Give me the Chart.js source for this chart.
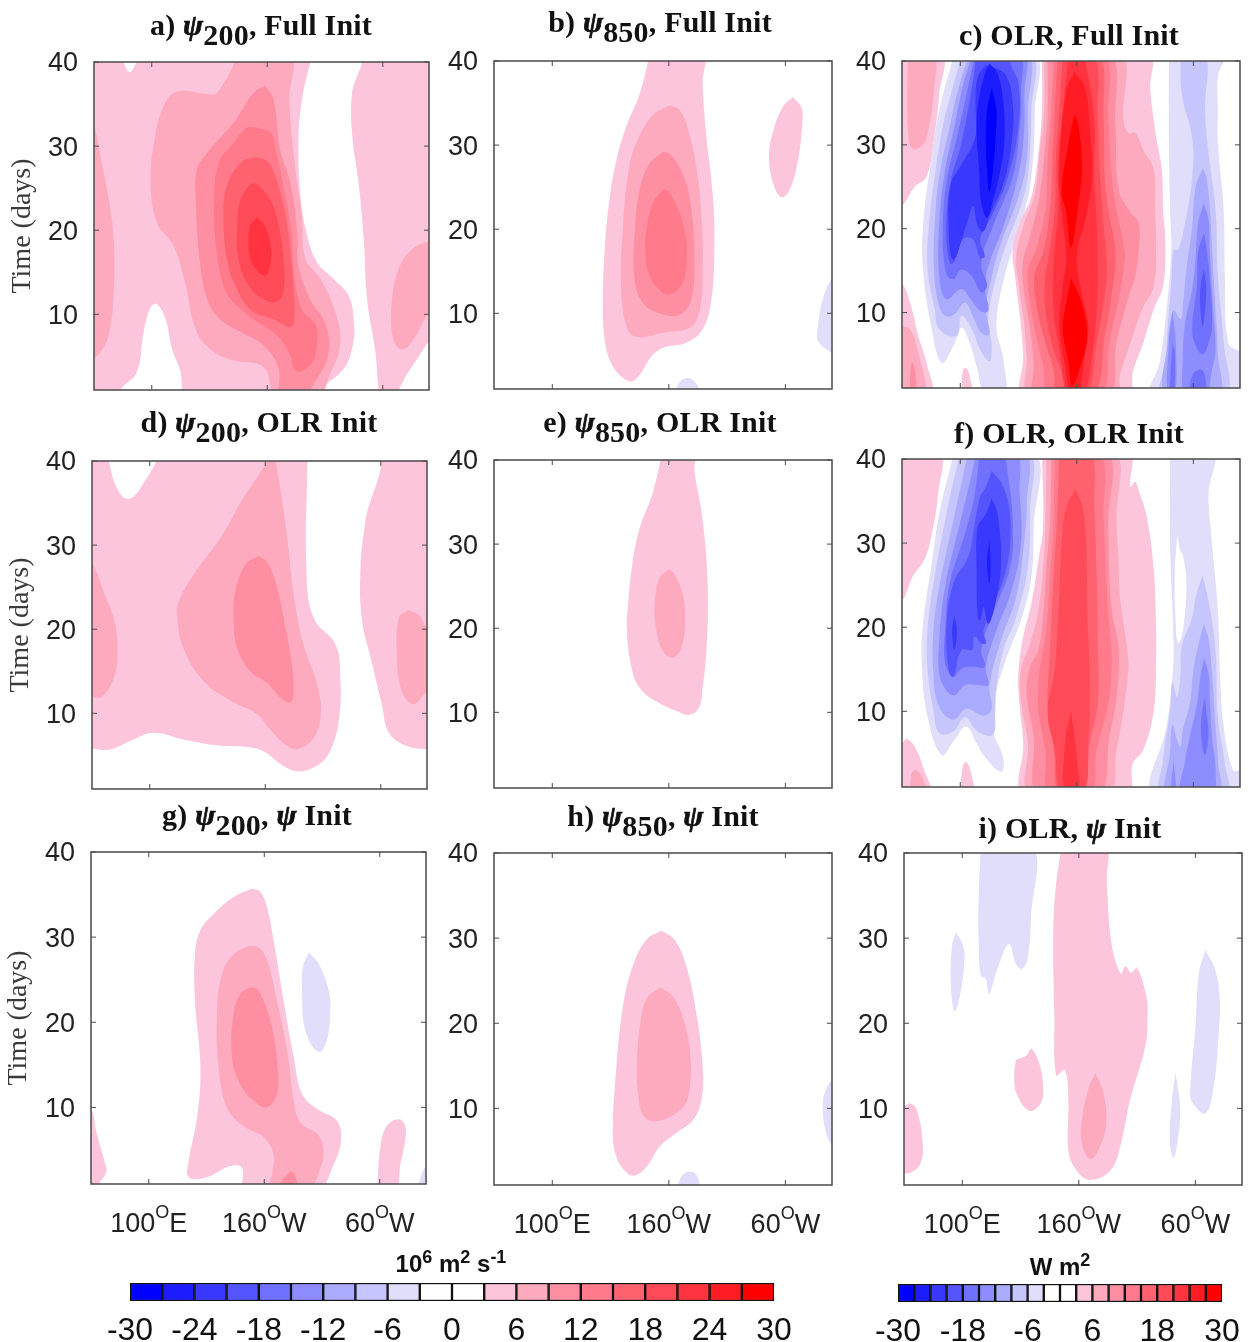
<!DOCTYPE html>
<html>
<head>
<meta charset="utf-8">
<title>Hovmoller panels</title>
<script src="https://cdn.jsdelivr.net/npm/chart.js@4"></script>
<style>
  html, body { margin: 0; padding: 0; background: #fff; }
  body { position: relative; width: 1250px; height: 1342px; overflow: hidden; }
  canvas { position: absolute; }
  .ttl { position: absolute; transform: translateX(-50%); white-space: nowrap; line-height: 1; letter-spacing: 0.2px;
         font: bold 30px "Liberation Serif", serif; color: #111; }
  .ttl i { -webkit-text-stroke: 0.7px #111; }
  .ttl sub { font-size: 30px; line-height: 0; vertical-align: -10px; }
  .unit { position: absolute; transform: translateX(-50%); white-space: nowrap; line-height: 1;
          font: bold 24px "Liberation Sans", sans-serif; color: #111; }
  .unit sup { font-size: 18px; line-height: 0; vertical-align: 9px; }
</style>
</head>
<body>
<script>
// colour bands, 3 units wide, -30..30
const bandColors = ['#0000ff', '#1c1cff', '#3838ff', '#5555ff', '#7171ff', '#8d8dff', '#aaaaff', '#c6c6fd', '#e0defb', '#ffffff',
  '#ffffff', '#fcc5dc', '#fda9be', '#fe8fa2', '#ff7a8b', '#ff626f', '#ff4b58', '#ff3440', '#ff1c24', '#ff0000'];
const bandEdges = [-30, -27, -24, -21, -18, -15, -12, -9, -6, -3, 0, 3, 6, 9, 12, 15, 18, 21, 24, 27, 30];
const timeTicks = [10, 20, 30, 40];
const lonTicks = [100, 200, 300];
const lonTickText = [['100', 'E'], ['160', 'W'], ['60', 'W']];
const barTicksLeft = [-30, -24, -18, -12, -6, 0, 6, 12, 18, 24, 30];
const barTicksRight = [-30, -18, -6, 6, 18, 30];

// contours as [longitude (deg east), time (days)]
// a) psi200 full init
const aBase = [[40, 42], [350, 42], [350, -1], [40, -1]];
const aHoleTop = [[74, 41], [77, 39.5], [81, 38.8], [85, 39.5], [89, 41]];
const aHoleRight = [[239, 41], [230, 35.5], [227, 30.4], [229, 23.7], [234, 19.7], [243, 16.2], [257.5, 14.2], [270.5, 12.2], [275, 9], [274, 6.3], [266, 3.5], [246, 1], [240, -1], [300, -1], [296.5, 1], [293.6, 5.5], [286.4, 11.8], [283.5, 18.9], [279, 25.6], [273.4, 31.5], [273.4, 36.3], [280.6, 41]];
const aHoleLeft = [[70, -1], [73, 1], [87, 3.1], [93, 7.9], [99, 10.8], [104.5, 11.2], [112, 9.4], [117.5, 5.9], [125, 3.1], [126, 1], [128, -1]];
const aHoleCorner = [[310, -1], [314, 1], [324, 3.5], [345, 7], [345, -1]];
const aP6Left = [[45, 32.2], [50, 32.2], [55.5, 28.8], [62.7, 23.7], [67, 19], [67, 12.6], [62.7, 7.5], [55.5, 5.5], [50, 4.9], [45, 4.9]];
const aP6 = [[176, 41], [156.5, 36.3], [148, 36.2], [122, 36.5], [110, 34.7], [102, 30.4], [99, 25.6], [104.5, 20.9], [119, 18.1], [128, 14.2], [139, 7.9], [154, 5.5], [171, 4.5], [197, 3.7], [208, 0], [243, 0], [255, 3.1], [263, 6.3], [260, 9.8], [246, 14.2], [233, 16.6], [230, 21.7], [224, 27.6], [219, 35.5], [220, 41]];
const aP6Right = [[345, 18.7], [340, 18.7], [327, 17.9], [315, 15.8], [308, 11.8], [309, 7.1], [316.7, 5.8], [327, 7.1], [340, 10.2], [345, 10.2]];
const aP9 = [[198, 37.2], [188, 36.3], [171, 32.8], [148, 29.2], [139, 27.2], [138, 23.7], [142, 15.8], [148, 11.8], [159, 9.4], [177, 7.9], [197, 6.3], [210, 3.5], [211, 0], [229, 0], [243, 2.3], [253, 5.5], [250, 9], [237, 11.8], [227, 15.8], [226, 19.7], [220, 25.6], [211, 29.6], [205.5, 35.5]];
const aP12 = [[191, 32.2], [182.5, 32.2], [171, 30.4], [158, 28], [154, 23.7], [155, 18.9], [162, 13.4], [171, 11.4], [188, 9.4], [208, 7.5], [220, 5.1], [223, 3.5], [229, 3.2], [239, 4.3], [243, 6.3], [242, 8.7], [230, 10.6], [223, 15], [221, 19.7], [214, 25.3], [208, 29.2], [203, 31.6]];
const aP15 = [[190, 28.7], [177, 28], [165, 25.3], [162, 21.7], [165, 16.6], [171, 13.8], [185, 10.6], [205.5, 9.4], [218.5, 8.5], [223, 8.9], [223, 12.6], [220, 17.4], [216, 21.7], [207, 26.4], [200, 28.2]];
const aP18 = [[185, 25.5], [177, 23.7], [174, 20.5], [175, 16.6], [184, 13.4], [197, 11.8], [208, 11.5], [214, 12.6], [214, 16.6], [210, 20.5], [204, 23.3], [195, 25], [190, 25.5]];
const aP21 = [[191, 21.5], [185, 20.5], [184, 17.7], [188, 15.8], [198, 14.6], [203, 16.2], [203, 18.1], [198, 20.5]];

// b) psi850 full init
const bP3 = [[184, 41], [175, 36.1], [163.5, 32.2], [155, 28.2], [149, 23.5], [145, 17.6], [143.5, 11.6], [145, 6.9], [152, 3.7], [166.4, 1.9], [175, 2.7], [184, 4.7], [195, 5.9], [215, 6.5], [229, 8.1], [236.5, 11.6], [239, 17.6], [238, 23.5], [232, 31.4], [229, 37.2], [228.5, 41]];
const bP6 = [[200.7, 34.7], [186.4, 33.6], [172, 30.2], [165, 26.6], [160.7, 20.3], [159, 13.6], [163.5, 8.5], [172, 7.2], [195, 7.7], [218, 8.3], [226.5, 10.4], [229, 15.6], [228, 21.5], [223.6, 27.4], [216.7, 31.8], [209, 34.2]];
const bP9 = [[195.6, 29.2], [183.6, 27.8], [175, 24.7], [170.7, 19.5], [170.7, 14], [178, 11.2], [192, 10], [209, 9.8], [219, 11.6], [222, 16], [219, 22.7], [212, 26.6], [202, 28.8]];
const bP12 = [[195.6, 24.8], [186.4, 23.1], [180.7, 19.9], [180, 16.8], [183.6, 14.4], [193.6, 12.6], [200.7, 12.2], [212, 13.6], [215.6, 16.8], [213.6, 19.9], [206.4, 22.9], [199.3, 24.5]];
const bP3Right = [[306.5, 35.7], [298, 34.6], [289, 31.4], [286, 28.6], [289.4, 25.5], [296.5, 23.8], [303.7, 24.7], [310.8, 28.2], [314.5, 32.6], [313.7, 34.5]];
const bN3Edge = [[345, 14.2], [340, 14.2], [332, 11.6], [328, 8.5], [328, 6.7], [340, 5.3], [345, 5.3]];
const bN3Foot = [[204, -1], [206.4, 1], [210.7, 2], [216.5, 2.3], [222, 1.9], [226, 1], [228, -1]];

// c) OLR full init
const cPink3Top = [[45, 41], [84, 41], [82, 36.1], [77, 30.2], [71, 26.2], [61, 25], [50, 22.7], [45, 22.7]];
const cPink6Top = [[55, 41], [77, 41], [77, 36.1], [72, 31.4], [68, 30], [59, 29.5], [55, 32.2]];
const cPink3Low = [[45, 13.5], [50, 13.5], [57, 11.2], [64, 7.2], [71, 4], [75, 0], [45, 0]];
const cPink6Low = [[45, 8.4], [50, 8.4], [57, 8], [64, 5.2], [69, 0], [45, 0]];
const cPink9Low = [[58.5, 4.2], [57, 2.5], [58, 0], [62, 0], [61, 3.2]];
const cPinkTiny = [[101, 0], [102, 3], [105, 3.4], [108, 2.5], [110, 0]];
const cN3 = [[95, 41], [82, 34.1], [75, 28.2], [68, 20.3], [68, 15.1], [75, 8.4], [84, 4], [94, 6], [101, 8.2], [108, 6.4], [114, 3.6], [122, 0], [138, 0], [137, 4.4], [131, 8.4], [138, 14.3], [154, 21.5], [161, 26.2], [164, 34.1], [163, 41]];
const cN6 = [[102, 41], [92, 36.1], [85, 32.2], [78, 26.2], [73, 20.3], [72, 15.1], [78, 10.4], [82, 8], [97, 7.2], [101, 9.6], [110, 8], [117, 5.6], [125, 4.2], [127, 6], [124, 9.2], [131, 14.3], [140, 18.3], [151, 22.3], [158, 26.2], [161, 34.1], [160, 41]];
const cN9 = [[108, 41], [98, 36.5], [91, 32.2], [82, 26.2], [78, 20.3], [77.5, 15.1], [81, 11.2], [87, 9.6], [95, 9.8], [104, 11.2], [112, 9.2], [118, 7.6], [125, 7.4], [122, 10.4], [127, 14.3], [135, 18.3], [150, 23.8], [157, 28.2], [158, 34.1], [157, 41]];
const cN12 = [[111, 41], [102, 36.9], [95, 32.2], [87, 27], [82, 20.7], [82, 14.3], [88, 11.6], [101, 12.8], [108, 11.8], [117, 10.2], [124, 10.2], [121, 13.2], [125, 15.9], [137, 20.3], [148, 25.4], [154, 30.2], [155, 36.1], [154, 41]];
const cN15 = [[113, 41], [108, 37.7], [98, 31.4], [88, 25.4], [85, 19.1], [88, 14.7], [94, 14], [101, 15.1], [110, 14.3], [118, 12.4], [123, 13.2], [118, 15.9], [128, 20.3], [145, 26.2], [151, 32.2], [152, 36.1], [150, 41]];
const cN18 = [[114, 41], [111, 37.7], [101, 30.2], [92, 25.8], [88, 20.3], [91, 15.9], [95, 16.1], [102, 18.7], [111, 18.7], [117, 16.5], [121, 16.7], [117, 18.7], [127, 21.5], [141, 26.2], [150, 32.2], [150, 37.3], [144, 39.3], [138, 41]];
const cN21 = [[122, 39.5], [115, 38.1], [113, 34.9], [113, 31], [100, 27.4], [92, 25.4], [90, 20.3], [94, 16.3], [105, 20.3], [111, 22.7], [115, 20.3], [120, 19.7], [125, 21.5], [137, 25.4], [144, 30.2], [145, 34.9], [138, 38.5]];
const cN24 = [[125, 39.7], [121, 38.5], [115, 34.5], [114, 31.4], [116, 27.4], [118, 23], [123, 21.3], [128, 23.4], [135, 27.4], [138, 31], [137, 34.9], [132, 38.5]];
const cN27 = [[127, 36.8], [123, 34.1], [122, 30.2], [123, 27], [125, 24.4], [128, 27], [130, 30.2], [131, 34.1]];
const cP3 = [[170, 41], [170, 34.1], [167, 29], [161, 23.8], [151, 20.7], [145, 17.5], [147, 14.3], [152, 8.4], [154, 4.8], [155, 0], [244, 0], [248, 2.9], [257, 6.4], [266, 10.4], [274, 13.2], [276, 18.3], [274, 22.3], [273, 27], [268, 31], [263, 36.5], [261, 41]];
const cP6 = [[172, 41], [172, 34.1], [168, 29], [164, 24.2], [154, 20.3], [148, 16.7], [150, 13.5], [155, 8.4], [157, 4.8], [160, 0], [234, 0], [237, 2.5], [246, 6.4], [256, 10.4], [266, 13.2], [268, 18.3], [267, 22.3], [266, 27], [257, 29.4], [250, 31.4], [244, 31.4], [240, 33], [237, 41]];
const cP9 = [[175, 41], [175, 34.1], [172, 28.6], [168, 23.8], [160, 19.1], [154, 16.3], [154, 13.2], [160, 8], [163, 4], [165, 0], [226, 0], [234, 6.4], [243, 11.2], [250, 14.3], [253, 17.5], [253, 20.7], [246, 21.9], [236, 24.6], [233, 32.6], [228, 41]];
const cP12 = [[180, 41], [178, 34.1], [175, 28.2], [173, 22.3], [165, 17.5], [158, 15.1], [160, 11.2], [165, 7.2], [171, 3.6], [177, 0], [220, 0], [228, 6.4], [237, 12.4], [241, 16.3], [240, 18.3], [234, 22.3], [230, 26.2], [227, 33], [223, 41]];
const cP15 = [[184, 41], [181, 34.1], [179, 28.2], [177, 22.3], [171, 17.1], [164, 14.7], [165, 11.2], [173, 6.4], [180, 3.2], [184, 0], [214, 0], [224, 7.2], [231, 13.2], [233, 17.5], [227, 22.3], [224, 26.2], [223, 33], [218, 41]];
const cP18 = [[188, 41], [185, 34.1], [182, 28.2], [181, 22.3], [175, 15.9], [173, 14.7], [173, 10.4], [180, 5.6], [188, 2.5], [191, 0], [208, 0], [217, 6.4], [223, 11.2], [226, 15.1], [223, 20.3], [220, 26.2], [218, 33], [214, 41]];
const cP21 = [[193, 41], [188, 34.1], [184, 28.2], [184, 22.3], [180, 15.9], [180, 10.4], [185, 5.6], [193, 0], [205, 0], [213, 4.8], [217, 10.4], [218, 14.7], [217, 20.7], [215, 26.2], [215, 33], [208, 39.5], [204, 41]];
const cP24 = [[198, 38.7], [191, 36.5], [185, 27], [187, 21.9], [191, 16.7], [188, 13.2], [185, 8.4], [190, 3.6], [195, 0], [201, 0], [208, 6.4], [210, 8.4], [204, 12.4], [200, 16.7], [208, 21.5], [213, 26.2], [211, 32.2], [207, 36.9]];
const cP27Top = [[198, 33.7], [193, 30.2], [187, 24.6], [191, 21.9], [195, 17.7], [200, 21.5], [204, 26.2], [204, 29], [201, 32.6]];
const cP27Low = [[195, 14], [191, 11.2], [188, 8], [193, 4], [196, 1.3], [203, 3.6], [209, 7.2], [204, 11.2], [198, 13.2]];
const cEastN3 = [[279, 41], [279, 30.2], [280, 22.3], [281, 17.5], [277, 10.4], [271, 4], [264, 0], [345, 0], [345, 5.4], [340, 5.4], [330, 6.4], [327, 14.3], [326, 22.3], [321, 30.2], [321, 34.1], [321, 38.1], [326, 41]];
const cEastN6 = [[289, 41], [290, 36.1], [299, 30.8], [299, 26.2], [294, 21.5], [287, 17.5], [283, 17.5], [281, 13.5], [278, 8.4], [276, 4], [273, 0], [327, 0], [326, 6.4], [321, 14.3], [319, 22.3], [313, 29], [310, 34.1], [310, 41]];
const cEastN9 = [[308, 27.2], [302, 25], [299, 20.3], [294, 15.1], [291, 10.8], [289, 9.2], [283, 10.2], [278, 6.4], [277, 0], [321, 0], [321, 5.2], [319, 10.4], [316, 17.5], [314, 22.7], [311, 26.2]];
const cEastN12 = [[309, 23], [304, 20.7], [302, 16.7], [299, 12.8], [293, 8.8], [291, 4.4], [293, 0], [310, 0], [316, 3.2], [319, 5.6], [317, 10.4], [314, 17.5], [313, 21.1]];
const cEastN12b = [[282, 10.2], [279, 6.4], [278, 0], [284, 0], [285, 6]];
const cEastN15 = [[309, 19.5], [304, 17.1], [303, 13.2], [299, 8.4], [301, 6.4], [308, 5], [313, 6.4], [316, 8.4], [314, 14.3], [311, 17.9]];
const cEastN15b = [[296, 0], [299, 2.5], [306, 3.2], [310, 2.5], [309, 0]];
const cEastN15c = [[282, 6.4], [280, 0], [283, 0], [284, 5.2]];
const cEastN18 = [[309, 15.3], [306, 12.8], [306, 10.4], [308, 8.4], [310, 10.4], [311, 12.8]];

// d) psi200 OLR init
const dHoleTop = [[63, 41], [70.2, 37.2], [80.3, 35.5], [92, 36.8], [105, 41]];
const dHoleBig = [[236.7, 41], [235.6, 26.9], [242, 21.3], [260.7, 18.2], [265, 14.2], [263.6, 9.1], [256, 5.5], [245, 3.8], [227.5, 3.1], [213, 4], [198.6, 5.5], [184, 6], [158, 6.2], [129, 6.9], [103, 7.7], [83, 6.7], [66, 5.7], [50, 5.8], [45, 5.8], [45, -1], [345, -1], [345, 5.6], [340, 5.7], [322.7, 6.1], [307, 7.7], [301, 11], [292, 16.2], [283.8, 21], [282.3, 26.9], [286.6, 32.8], [297, 41]];
const dP6Left = [[45, 27.9], [50, 27.9], [60, 24.5], [70, 20.6], [72, 17], [68.8, 14.2], [58.7, 12], [50, 11.9], [45, 11.9]];
const dP6 = [[207, 41], [196, 38.7], [181, 35.6], [161, 30.8], [138, 26.5], [125, 23.3], [123.6, 21.7], [129, 17.8], [146.7, 13.8], [170, 11.5], [193, 9.9], [204, 8.1], [219, 6.1], [229, 5.8], [242, 7.1], [248, 9.9], [245, 13.4], [233, 18.2], [224.6, 24.1], [219, 30.8], [213, 36.8], [208.7, 40]];
const dP9 = [[194, 28.7], [182.8, 27.7], [174, 24.5], [172.7, 21.3], [175.5, 17.8], [187, 15], [201.5, 13.6], [214.5, 11.7], [221.7, 11.3], [224.6, 12.3], [223, 15.8], [216, 21.3], [208.7, 25.7], [201.5, 28]];
const dP6Right = [[323.3, 22.3], [315.5, 21.3], [314, 16.6], [318.4, 12.6], [328.5, 11.1], [340, 12.6], [345, 12.6], [345, 20], [340, 20.2], [332.8, 21.7]];

// e) psi850 OLR init
const eP3 = [[194.4, 41], [186.4, 36.2], [175, 31.9], [169, 27.9], [165, 22.8], [164, 19.6], [168, 15.3], [175, 12.9], [189, 11.3], [209, 10], [218, 9.7], [226, 10.6], [229, 12.9], [232, 16.9], [233.6, 22.8], [232, 28.7], [228, 33.9], [222, 38.6], [221, 41]];
const eP6 = [[200, 27], [192, 26], [188, 23.2], [189, 20], [195, 17.3], [203.6, 16.5], [210.7, 17.7], [214, 20.8], [212, 24], [205, 26.4]];

// f) OLR OLR init
const fPink3Top = [[45, 41], [82, 41], [81, 35.9], [75, 30.7], [69, 28], [59, 26], [54, 24.2], [50, 23.2], [45, 23.2]];
const fPink3Low = [[45, 6.2], [50, 6.2], [54, 6.7], [61, 5.8], [68, 3.4], [74, 0], [45, 0]];
const fPink6Low = [[58, 2.6], [62, 3], [68, 2], [70, 0], [57.5, 0]];
const fPinkTiny = [[100, 0], [102, 3.4], [105, 4], [109, 2.8], [111, 0]];
const fN3 = [[95, 41], [82, 33.5], [76, 28], [68, 20.4], [67, 15.3], [72, 9.3], [84, 4.8], [95, 6.6], [105, 8.2], [114, 6.2], [121, 4.6], [135, 2.8], [137, 4.4], [128, 7.8], [130, 11.7], [140, 16.5], [152, 20.8], [161, 26], [163, 31.9], [163, 41]];
const fN6 = [[101, 41], [95, 37.9], [87, 32.7], [78, 26], [72, 20], [72, 14.9], [77, 10.1], [82, 7.4], [94, 7.6], [104, 9.3], [115, 7.6], [128, 7.2], [130, 10.1], [131, 12.9], [137, 17.3], [148, 21.2], [158, 27.2], [160, 33.9], [158, 41]];
const fN9 = [[107, 41], [101, 37.1], [94, 32.7], [82, 24.8], [77, 19.6], [77, 14.5], [82, 10.5], [94, 9], [105, 10.3], [120, 9.5], [127, 10.3], [125, 12.9], [134, 18.1], [148, 23.6], [154, 29.1], [157, 34.7], [155, 41]];
const fN12 = [[114, 41], [108, 37.1], [101, 33.1], [87, 24.8], [82, 18.5], [82, 14.5], [88, 12.5], [95, 11.9], [104, 13.1], [118, 13.1], [124, 13.1], [122, 15.3], [131, 19.6], [144, 24.4], [152, 30], [151, 35.9], [147, 41]];
const fN15 = [[117, 41], [112, 35.5], [104, 31.1], [91, 25.2], [87, 19.6], [87, 15.7], [94, 14.1], [101, 15.1], [110, 15.3], [121, 15.3], [118, 17.3], [128, 21.6], [143, 27.2], [145, 32.7], [141, 37.9], [135, 41]];
const fN18 = [[127, 38.6], [122, 36.7], [117, 35.5], [111, 31.1], [107, 28.4], [94, 25.2], [88, 20], [90, 14.9], [94, 14.1], [101, 17.3], [110, 17.3], [112, 18.9], [118, 18.1], [122, 18.1], [120, 19.6], [128, 22.4], [140, 27.2], [143, 32.7], [137, 36.7]];
const fN21a = [[127, 35.3], [122, 33.5], [115, 31.9], [114, 26.8], [115, 21.2], [117, 20.8], [120, 22.4], [124, 20.4], [130, 22.8], [135, 27.6], [132, 33.5]];
const fN21b = [[95, 21.4], [93, 19.6], [95, 17.3], [97, 19.6]];
const fN24 = [[125, 30.3], [123, 27.6], [125, 25.2], [126, 27.6]];
const fP3 = [[170, 41], [171, 31.9], [167, 28], [161, 22.8], [154, 18.9], [150, 14.9], [150, 12.1], [154, 6.2], [155, 0], [243, 0], [248, 3.8], [257, 5.4], [266, 10.1], [268, 16.1], [268, 20], [266, 26.8], [260, 33.1], [253, 36.3], [250, 37.3], [246, 36.7], [244, 41]];
const fP6 = [[174, 41], [173, 31.9], [171, 26.8], [167, 22], [160, 18.1], [152, 14.9], [152, 11.3], [158, 6.2], [160, 0], [226, 0], [234, 5.4], [240, 10.1], [244, 14.5], [244, 16.5], [237, 23.6], [236, 27.2], [234, 32.7], [232, 41]];
const fP9 = [[178, 41], [177, 32.7], [174, 27.2], [171, 21.2], [167, 17.3], [160, 15.3], [157, 12.1], [163, 7], [167, 0], [218, 0], [228, 7], [234, 11.7], [236, 17.3], [230, 22], [228, 26], [227, 32.3], [226, 41]];
const fP12 = [[181, 41], [180, 32.7], [177, 26], [174, 20], [169, 15.7], [167, 13.3], [167, 10.1], [173, 5.4], [177, 0], [211, 0], [217, 5.4], [227, 10.9], [230, 16.1], [228, 20], [225, 26], [223, 32.7], [219, 41]];
const fP15 = [[185, 41], [183, 32.7], [180, 26], [177, 17.3], [175, 10.1], [180, 6.2], [185, 0], [205, 0], [211, 6.2], [218, 10.9], [218, 18.1], [217, 26], [215, 33.9], [211, 41]];
const fP18 = [[199, 36.4], [191, 34.3], [187, 30], [185, 24], [181, 14.9], [175, 10], [181, 5.4], [187, 0], [205, 0], [210, 6.2], [211, 14.1], [209, 22], [208, 30], [205, 34.3]];
const fP21 = [[195, 10.1], [190, 6.2], [190, 0], [201, 0], [200, 4.6]];
const fEastN3 = [[280, 41], [280, 30], [283, 18.1], [282, 14.1], [277, 8.2], [266, 0], [345, 0], [345, 3], [340, 3], [334, 3], [326, 8.2], [323, 14.1], [321, 22], [316, 30], [313, 35.9], [317, 41]];
const fEastGap = [[286, 31], [284, 26], [285, 20], [287, 18.1], [291, 19.6], [294, 25.2], [291, 28.6], [289, 29]];
const fEastN6 = [[308, 26.2], [302, 23.6], [299, 21.2], [290, 17.7], [289, 14.5], [286, 11.7], [282, 13.5], [280, 10.1], [274, 4.2], [273, 0], [328, 0], [327, 3.8], [321, 9.3], [319, 17.3], [314, 22.4]];
const fEastN9 = [[309, 20.4], [304, 17.7], [300, 14.9], [297, 10.9], [291, 7.8], [289, 5.8], [286, 6.6], [282, 8.4], [280, 5], [278, 0], [321, 0], [321, 4.2], [319, 8.2], [316, 14.5], [313, 18.5]];
const fEastN12 = [[309, 16.3], [306, 14.1], [303, 10.9], [297, 7], [293, 4.2], [290, 0], [316, 0], [319, 3], [316, 7], [314, 11.7], [313, 14.5]];
const fEastN12b = [[283, 4.2], [281, 0], [285, 0]];
const fEastN15 = [[310, 11.7], [307, 9.3], [307, 6.6], [310, 4.8], [313, 7.4], [311, 10.1]];

// g) psi200 psi init
const gP3 = [[189.4, 35.7], [173.5, 34.7], [156, 32.7], [144.7, 30.8], [140, 28], [140, 22.5], [144.7, 14.7], [141.8, 8.8], [134.6, 3.7], [134.6, 1.8], [150.4, 1.8], [170.6, 3.1], [180.7, 2.9], [183.6, 0.2], [245.7, 0.2], [260, 3.3], [266.4, 6.1], [263, 8.4], [245.7, 9.8], [232.7, 11.6], [225.5, 15.9], [216.8, 22.5], [209.6, 28.4], [202.4, 33.5], [196.6, 35.3]];
const gP6 = [[186.5, 29], [173.5, 28], [163.4, 25.7], [159, 21], [160.5, 14.7], [167.7, 10], [182, 7.8], [199.5, 6.5], [208, 4.5], [206.7, 2.2], [205, 0.2], [237, 0.2], [248.6, 2.9], [251, 5.3], [245.7, 6.9], [232.7, 8], [227, 9.6], [219.7, 16.7], [211, 22.5], [202.4, 27.3], [195, 28.8]];
const gP9 = [[188, 24.1], [179.3, 23.3], [173.5, 21], [172, 15.9], [179.3, 12.7], [190.8, 10.8], [202.4, 10], [211, 11.6], [211.6, 14.7], [206.7, 19.4], [199.5, 22.5], [193.7, 23.9]];
const gP9Foot = [[208, 0], [222, 2.4], [226, 2.2], [228, 0]];
const gP3Left = [[45, 10], [50, 10], [55, 6.9], [62.4, 3.3], [63.3, 2.4], [56.6, 0.8], [54, -1], [45, -1]];
const gP3Right = [[297.6, 0.2], [300.5, 5.3], [306, 7.8], [316.4, 8.6], [322, 7.8], [322, 6.1], [317.8, 3.3], [313.5, 0.2]];
const gN3 = [[238.5, 28.2], [233.5, 26.5], [232.7, 23.7], [235.6, 19], [247, 16.5], [254, 17.8], [257, 21], [255.8, 23.7], [247, 26.9]];
const gN3Corner = [[345, 3.1], [340, 3.1], [333.7, 1], [332, -1], [345, -1]];

// h) psi850 psi init
const hP3 = [[193.6, 30.9], [180.7, 29.8], [169, 26.7], [160.7, 22], [155, 14.9], [152, 7.1], [155, 4.3], [163.5, 2.5], [170.7, 2.1], [180.7, 3.1], [192, 5.5], [206.4, 7.1], [220.7, 8.6], [228, 11], [229, 14.9], [223.6, 21.2], [215, 26.7], [205, 29.8]];
const hP6 = [[192.7, 24.2], [182, 23.1], [176.4, 20.8], [172.7, 15.7], [173.6, 11.8], [178, 9.2], [186.4, 8.5], [200.7, 9], [213.6, 10.4], [218, 12.5], [218.5, 16.1], [213.6, 20], [203.6, 23.1]];
const hN3Edge = [[345, 13.4], [340, 13.4], [333.7, 11.8], [332, 9.8], [335, 7.1], [340, 5.7], [345, 5.7]];
const hN3Foot = [[206, -1], [208, 1], [212, 2.2], [218, 2.6], [223.6, 2.2], [226.5, 1], [228, -1]];

// i) OLR psi init
const iN3Top = [[116, 41], [114, 34.5], [114, 29.8], [116, 25.5], [120, 25.3], [123, 23.5], [130, 26.3], [140, 29.3], [146, 27], [151, 26.4], [156, 27.5], [159, 32.5], [160, 41]];
const iN3Small = [[94.7, 30.7], [91.5, 29.4], [90, 25.1], [93, 21.4], [96.7, 22.4], [101.5, 26.7], [101, 29]];
const iP3 = [[185.4, 41], [180, 35.7], [178, 29.8], [179, 20.8], [180.5, 13.9], [188, 14.5], [191, 11], [191, 5.1], [198, 2.7], [210, 1.6], [227, 2.7], [235.5, 5.5], [244, 11], [257, 17.3], [259, 20.8], [258, 23.1], [250, 26.5], [245, 25.9], [240, 26.7], [236, 25.8], [228, 29.4], [224, 36.5], [222, 41]];
const iP6 = [[214, 14.2], [208, 12.2], [202.6, 8.6], [202.6, 5.9], [210, 4], [218, 5.5], [223.5, 8.2], [221, 11.8]];
const iP3Blob = [[146, 15.7], [144.5, 13.7], [147, 11.6], [158, 9.7], [168, 10.8], [169, 13.3], [165, 15.7], [159, 17], [155, 16.2]];
const iP3Left = [[45, 10.2], [50, 10.2], [55, 10.6], [61, 9.8], [66, 5.9], [64, 3.5], [55, 2.4], [50, 2.4], [45, 2.4]];
const iN3East = [[308.5, 28.6], [303, 25.9], [300, 19.6], [295.6, 12.2], [297, 10.8], [308.5, 9.4], [315.7, 12.5], [320, 18.8], [321, 22.7], [317, 26.3]];
const iN3Sliver = [[283, 14.3], [280, 11], [278, 6.3], [281, 4.2], [284, 5.5], [287, 9.8]];

// painter order per panel: [band lower edge, contour]
const panels = [
  { box: [94, 62, 429, 390], title: 'a) <i>ψ</i><sub>200</sub>, Full Init', tx: 261, ty: 8, left: true, titlePad: 6,
    layers: [[3, aBase], [0, aHoleTop], [0, aHoleRight], [0, aHoleLeft], [0, aHoleCorner], [6, aP6Left], [6, aP6], [6, aP6Right], [9, aP9], [12, aP12], [15, aP15], [18, aP18], [21, aP21]] },
  { box: [494, 61, 832, 389], title: 'b) <i>ψ</i><sub>850</sub>, Full Init', tx: 660, ty: 5,
    layers: [[3, bP3], [6, bP6], [9, bP9], [12, bP12], [3, bP3Right], [-6, bN3Edge], [-6, bN3Foot]] },
  { box: [902, 61, 1240, 388], title: 'c) OLR, Full Init', tx: 1069, ty: 18,
    layers: [[3, cPink3Top], [6, cPink6Top], [3, cPink3Low], [6, cPink6Low], [9, cPink9Low], [3, cPinkTiny],
      [-6, cN3], [-9, cN6], [-12, cN9], [-15, cN12], [-18, cN15], [-21, cN18], [-24, cN21], [-27, cN24], [-30, cN27],
      [3, cP3], [6, cP6], [9, cP9], [12, cP12], [15, cP15], [18, cP18], [21, cP21], [24, cP24], [27, cP27Top], [27, cP27Low],
      [-6, cEastN3], [-9, cEastN6], [-12, cEastN9], [-15, cEastN12], [-15, cEastN12b], [-18, cEastN15], [-18, cEastN15b], [-18, cEastN15c], [-21, cEastN18]] },
  { box: [92, 461, 427, 789], title: 'd) <i>ψ</i><sub>200</sub>, OLR Init', tx: 259, ty: 405, left: true, titlePad: 4,
    layers: [[3, aBase], [0, dHoleTop], [0, dHoleBig], [6, dP6Left], [6, dP6], [9, dP9], [6, dP6Right]] },
  { box: [494, 460, 832, 788], title: 'e) <i>ψ</i><sub>850</sub>, OLR Init', tx: 660, ty: 405,
    layers: [[3, eP3], [6, eP6]] },
  { box: [902, 459, 1240, 787], title: 'f) OLR, OLR Init', tx: 1069, ty: 416,
    layers: [[3, fPink3Top], [3, fPink3Low], [6, fPink6Low], [3, fPinkTiny],
      [-6, fN3], [-9, fN6], [-12, fN9], [-15, fN12], [-18, fN15], [-21, fN18], [-24, fN21a], [-24, fN21b], [-27, fN24],
      [3, fP3], [6, fP6], [9, fP9], [12, fP12], [15, fP15], [18, fP18], [21, fP21],
      [-6, fEastN3], [0, fEastGap], [-9, fEastN6], [-12, fEastN9], [-15, fEastN12], [-15, fEastN12b], [-18, fEastN15]] },
  { box: [91, 852, 426, 1184], title: 'g) <i>ψ</i><sub>200</sub>, <i>ψ</i> Init', tx: 257, ty: 798, left: true, bottom: true, titlePad: 2,
    layers: [[3, gP3], [6, gP6], [9, gP9], [9, gP9Foot], [3, gP3Left], [3, gP3Right], [-6, gN3], [-6, gN3Corner]] },
  { box: [494, 853, 832, 1185], title: 'h) <i>ψ</i><sub>850</sub>, <i>ψ</i> Init', tx: 663, ty: 799, bottom: true,
    layers: [[3, hP3], [6, hP6], [-6, hN3Edge], [-6, hN3Foot]] },
  { box: [904, 853, 1242, 1185], title: 'i) OLR, <i>ψ</i> Init', tx: 1070, ty: 811, bottom: true,
    layers: [[-6, iN3Top], [-6, iN3Small], [3, iP3], [6, iP6], [3, iP3Blob], [3, iP3Left], [-6, iN3East], [-6, iN3Sliver]] }
];

function bandColor(level) {
  return bandColors[(level + 30) / 3];
}

// frame, inward ticks and the superscript longitude labels
const framePlugin = {
  id: 'frame',
  afterDraw(chart, args, opts) {
    const { ctx, chartArea: a, scales } = chart;
    ctx.save();
    ctx.strokeStyle = '#4a4a4a';
    ctx.lineWidth = 1.5;
    ctx.strokeRect(a.left, a.top, a.right - a.left, a.bottom - a.top);
    ctx.lineWidth = 1;
    ctx.beginPath();
    lonTicks.forEach(v => {
      const px = scales.x.getPixelForValue(v);
      ctx.moveTo(px, a.top); ctx.lineTo(px, a.top + 5);
      ctx.moveTo(px, a.bottom); ctx.lineTo(px, a.bottom - 5);
    });
    timeTicks.forEach(v => {
      const py = scales.y.getPixelForValue(v);
      ctx.moveTo(a.left, py); ctx.lineTo(a.left + 5, py);
      ctx.moveTo(a.right, py); ctx.lineTo(a.right - 5, py);
    });
    ctx.stroke();
    if (opts.showLon) {
      ctx.fillStyle = '#222';
      ctx.textBaseline = 'alphabetic';
      lonTicks.forEach((v, i) => {
        const [num, hemi] = lonTickText[i];
        const big = '27px "Liberation Sans"', small = '18px "Liberation Sans"';
        ctx.font = big;
        const w1 = ctx.measureText(num).width, w3 = ctx.measureText(hemi).width;
        ctx.font = small;
        const w2 = ctx.measureText('O').width;
        let x = scales.x.getPixelForValue(v) - (w1 + w2 + w3) / 2;
        const y = a.bottom + 48;
        ctx.textAlign = 'left';
        ctx.font = big;
        ctx.fillText(num, x, y);
        x += w1;
        ctx.font = small;
        ctx.fillText('O', x, y - 14);
        x += w2;
        ctx.font = big;
        ctx.fillText(hemi, x, y);
      });
    }
    ctx.restore();
  }
};

function addPanel(p) {
  const [x0, y0, x1, y1] = p.box;
  const marginL = p.left ? x0 : 60, marginT = 34, marginR = 8, marginB = p.bottom ? 62 : 36;
  const w = x1 - x0 + marginL + marginR, h = y1 - y0 + marginT + marginB;
  const canvas = document.createElement('canvas');
  canvas.width = w; canvas.height = h;
  canvas.style.left = (x0 - marginL) + 'px';
  canvas.style.top = (y0 - marginT) + 'px';
  canvas.style.width = w + 'px'; canvas.style.height = h + 'px';
  document.body.appendChild(canvas);

  const n = p.layers.length;
  new Chart(canvas, {
    type: 'scatter',
    data: {
      datasets: p.layers.map(([level, pts], i) => ({
        data: pts.concat([pts[0]]),
        showLine: true,
        fill: 'shape',
        tension: 0.4,
        backgroundColor: bandColor(level),
        borderWidth: 0,
        borderColor: 'rgba(0,0,0,0)',
        pointRadius: 0,
        order: n - i
      }))
    },
    options: {
      responsive: false,
      animation: false,
      layout: { padding: { top: marginT, right: marginR } },
      elements: { line: { capBezierPoints: false } },
      plugins: { legend: { display: false }, tooltip: { enabled: false }, frame: { showLon: !!p.bottom } },
      events: [],
      scales: {
        x: {
          type: 'linear', min: 50, max: 340,
          grid: { display: false }, border: { display: false },
          ticks: { display: false },
          afterBuildTicks: s => { s.ticks = lonTicks.map(value => ({ value })); },
          afterFit: s => { s.height = marginB; }
        },
        y: {
          type: 'linear', min: 1, max: 40,
          grid: { display: false }, border: { display: false },
          title: { display: !!p.left, text: 'Time (days)', color: '#3a3a3a', padding: p.titlePad || 0,
            font: { family: '"Liberation Serif"', size: 28, lineHeight: 1.2 } },
          ticks: { color: '#222', padding: 8, labelOffset: 2, font: { family: '"Liberation Sans"', size: 27 } },
          afterBuildTicks: s => { s.ticks = timeTicks.map(value => ({ value })); },
          afterFit: s => { s.width = marginL; }
        }
      }
    },
    plugins: [framePlugin]
  });

  const t = document.createElement('div');
  t.className = 'ttl';
  t.innerHTML = p.title;
  t.style.left = p.tx + 'px';
  t.style.top = p.ty + 'px';
  document.body.appendChild(t);
}

function addColorbar(box, ticks, unitHtml, unitX, unitY) {
  const [x0, y0, x1, y1] = box;
  const padL = 44, padR = 44, padT = 6, belowBar = 1342 - y1;
  const w = x1 - x0 + padL + padR, h = y1 - y0 + padT + belowBar;
  const canvas = document.createElement('canvas');
  canvas.width = w; canvas.height = h;
  canvas.style.left = (x0 - padL) + 'px';
  canvas.style.top = (y0 - padT) + 'px';
  canvas.style.width = w + 'px'; canvas.style.height = h + 'px';
  document.body.appendChild(canvas);

  new Chart(canvas, {
    type: 'bar',
    data: {
      labels: ['band'],
      datasets: bandColors.map((c, i) => ({
        data: [[bandEdges[i], bandEdges[i + 1]]],
        backgroundColor: c,
        borderColor: '#111',
        borderWidth: 1.5,
        borderSkipped: false,
        barPercentage: 1,
        categoryPercentage: 1,
        grouped: false
      }))
    },
    options: {
      indexAxis: 'y',
      responsive: false,
      animation: false,
      events: [],
      layout: { padding: { left: padL, right: padR, top: padT } },
      plugins: { legend: { display: false }, tooltip: { enabled: false } },
      scales: {
        y: { display: false },
        x: {
          type: 'linear', min: -30, max: 30,
          grid: { display: false }, border: { display: false },
          ticks: { color: '#111', padding: 3, maxRotation: 0, autoSkip: false,
            font: { family: '"Liberation Sans"', size: 32 } },
          afterBuildTicks: s => { s.ticks = ticks.map(value => ({ value })); },
          afterFit: s => { s.height = belowBar; }
        }
      }
    }
  });

  const u = document.createElement('div');
  u.className = 'unit';
  u.innerHTML = unitHtml;
  u.style.left = unitX + 'px';
  u.style.top = unitY + 'px';
  document.body.appendChild(u);
}

panels.forEach(addPanel);
addColorbar([130, 1283, 774, 1301], barTicksLeft, '10<sup>6</sup> m<sup>2</sup> s<sup>-1</sup>', 451, 1250);
addColorbar([898, 1284, 1222, 1302], barTicksRight, 'W m<sup>2</sup>', 1060, 1253);
</script>
</body>
</html>
